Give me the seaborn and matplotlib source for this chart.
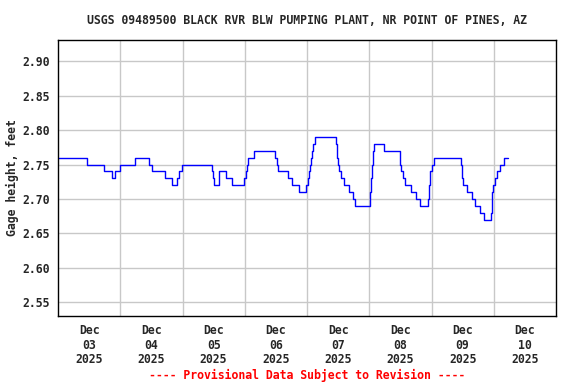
import matplotlib
matplotlib.use('Agg')
import matplotlib.pyplot as plt
import pandas as pd
import seaborn as sns

title = 'USGS 09489500 BLACK RVR BLW PUMPING PLANT, NR POINT OF PINES, AZ'
start = '2025-12-03'

# step change points: hours after Dec 03 00:00, gage height (ft)
hours = [0.0, 11.2, 17.8, 20.9, 22.0, 24.0, 29.8, 35.2, 36.3, 41.4, 44.1, 46.0, 46.8, 47.9,
         59.5, 59.9, 60.3, 62.2, 64.9, 67.2, 71.9, 72.3, 72.7, 73.4, 75.7, 83.5, 84.3, 85.0,
         88.5, 90.4, 92.8, 95.8, 96.2, 96.6, 97.0, 97.4, 97.8, 98.2, 98.9, 107.1, 107.4,
         107.6, 107.8, 108.2, 109.0, 110.1, 112.1, 113.6, 114.4, 120.2, 120.6, 121.0, 121.4,
         121.7, 125.6, 131.8, 132.0, 132.2, 132.9, 133.7, 136.0, 138.0, 139.5, 142.6, 143.0,
         143.4, 144.2, 144.9, 155.4, 155.7, 156.1, 157.7, 159.6, 160.8, 162.7, 164.3, 167.0,
         167.3, 167.7, 168.5, 169.3, 170.4, 172.0, 173.5]
gage = [2.76, 2.75, 2.74, 2.73, 2.74, 2.75, 2.76, 2.75, 2.74, 2.73, 2.72, 2.73, 2.74, 2.75,
        2.74, 2.73, 2.72, 2.74, 2.73, 2.72, 2.73, 2.74, 2.75, 2.76, 2.77, 2.76, 2.75, 2.74,
        2.73, 2.72, 2.71, 2.72, 2.73, 2.74, 2.75, 2.76, 2.77, 2.78, 2.79, 2.78, 2.77,
        2.76, 2.75, 2.74, 2.73, 2.72, 2.71, 2.70, 2.69, 2.71, 2.73, 2.75, 2.77,
        2.78, 2.77, 2.76, 2.75, 2.74, 2.73, 2.72, 2.71, 2.70, 2.69, 2.70, 2.72,
        2.74, 2.75, 2.76, 2.75, 2.73, 2.72, 2.71, 2.70, 2.69, 2.68, 2.67, 2.68,
        2.71, 2.72, 2.73, 2.74, 2.75, 2.76, 2.76]
yticks = [2.55, 2.60, 2.65, 2.70, 2.75, 2.80, 2.85, 2.90]

sns.set_style('white')
plt.rcParams['font.family'] = ['DejaVu Sans Mono']
plt.rcParams['font.weight'] = 'bold'

df = pd.DataFrame({
    'time': pd.Timestamp(start) + pd.to_timedelta(hours, unit='h'),
    'gage': gage,
})

fig = plt.figure(figsize=(5.76, 3.84), dpi=100)
ax = fig.add_axes([58 / 576, 1 - 316 / 384, 498 / 576, 276 / 384])

sns.lineplot(data=df, x='time', y='gage', ax=ax, color='#0000ff', linewidth=1.0,
             estimator=None, drawstyle='steps-post')

ax.set_xlim(pd.Timestamp(start), pd.Timestamp('2025-12-11'))
ax.set_ylim(2.530, 2.931)
ax.set_yticks(yticks)
ax.set_yticklabels([f'{v:.2f}' for v in yticks], fontsize=8.3, fontweight='bold')

days = pd.date_range(start, periods=8, freq='D')
ax.set_xticks(days[1:])
ax.set_xticklabels([])
ax.set_xticks(days + pd.Timedelta(hours=12), minor=True)
ax.set_xticklabels([d.strftime('%b\n%d\n%Y') for d in days], minor=True,
                   fontsize=8.3, fontweight='bold', linespacing=1.12)
ax.tick_params(axis='x', which='both', length=0, pad=6)
ax.tick_params(axis='y', length=0, pad=6)

ax.grid(True, which='major', color='#c8c8c8', linewidth=1.0)
ax.set_axisbelow(True)
for s in ax.spines.values():
    s.set_color('black')
    s.set_linewidth(1.0)

ax.set_xlabel('')
ax.set_ylabel('Gage height, feet', fontsize=8.3, fontweight='bold', labelpad=2)
fig.text(307 / 576, 1 - 20 / 384, title, ha='center', va='center', fontsize=8.3, fontweight='bold')
fig.text(307 / 576, 1 - 375 / 384, '---- Provisional Data Subject to Revision ----',
         ha='center', va='center', fontsize=8.3, fontweight='bold', color='red')

fig.savefig('out.png', dpi=100)
